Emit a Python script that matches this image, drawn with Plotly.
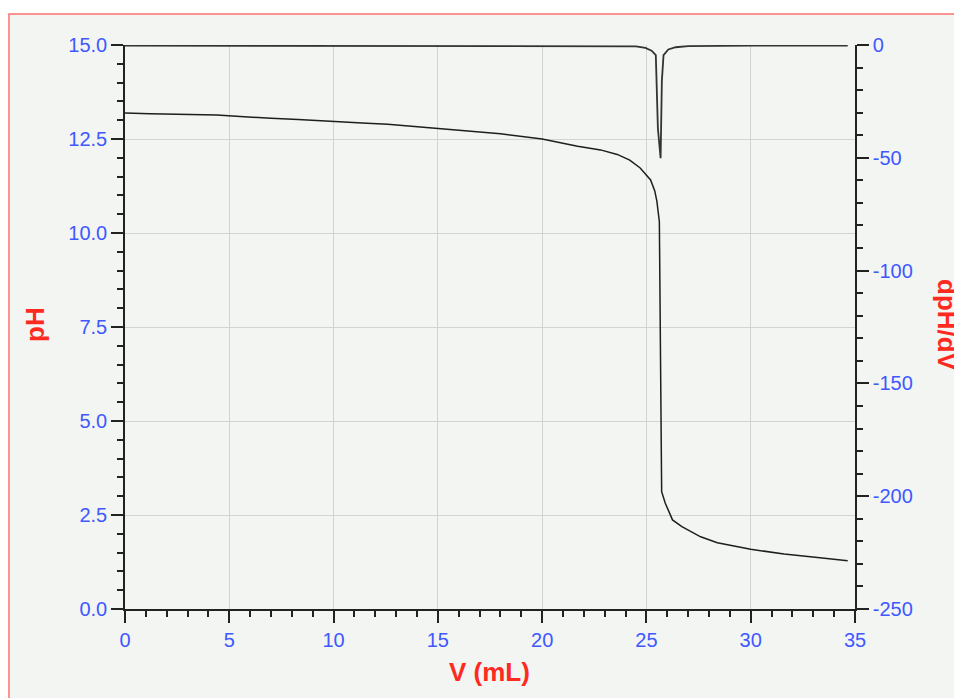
import plotly.graph_objects as go

# --- data ---
volume_ml = [0, 1.2, 4.4, 5.7, 7.0, 8.3, 9.5, 10.5, 11.6, 12.6, 13.5, 15.1, 16.5, 18.0,
             20.0, 21.7, 22.8, 23.6, 24.2, 24.7, 25.2, 25.4, 25.5, 25.62, 25.73, 25.9,
             26.25, 26.7, 27.6, 28.4, 30.0, 31.6, 33.2, 34.65]
ph_values = [13.19, 13.17, 13.14, 13.09, 13.05, 13.02, 12.99, 12.95, 12.92, 12.89, 12.85,
             12.78, 12.72, 12.64, 12.50, 12.31, 12.21, 12.09, 11.94, 11.73, 11.41, 11.12,
             10.85, 10.30, 3.12, 2.82, 2.37, 2.19, 1.92, 1.76, 1.59, 1.46, 1.37, 1.28]

deriv_volume_ml = [0, 5, 10, 15, 20, 23, 24.5, 24.95, 25.25, 25.45, 25.55, 25.68, 25.74,
                   25.82, 26.05, 26.4, 27, 30, 34.65]
dph_dv_values = [-0.3, -0.3, -0.3, -0.3, -0.3, -0.4, -0.6, -1.3, -2.5, -4.5, -37, -50.2,
                 -16, -4.5, -2.0, -1.0, -0.5, -0.3, -0.3]

y2_tick_values = [-250, -200, -150, -100, -50, 0]
y2_tick_labels = ["-250", "-200", "-150", "-100", "-50", "0"]

x_title = "V (mL)"
y_title = "pH"
y2_title = "dpH/dV"

# --- styling ---
OFF = 8  # page body margin
W, H = 962, 698
L, T = 117, 37
PW, PH = 730, 564
R, B = W - L - PW, H - T - PH
BLUE = "#4058ff"
RED = "#ff2a1f"
AX = "#222222"
BG = "#f2f5f2"
FONT = "Liberation Sans, Arial, sans-serif"


def px_x(px):
    return (px - OFF - L) / PW


def px_y(py):
    return (T + PH - (py - OFF)) / PH


fig = go.Figure()
fig.add_trace(go.Scatter(x=volume_ml, y=ph_values, mode="lines",
                         line=dict(color="#1e1e1e", width=1.5), yaxis="y",
                         showlegend=False, hoverinfo="skip"))
fig.add_trace(go.Scatter(x=deriv_volume_ml, y=dph_dv_values, mode="lines",
                         line=dict(color="#333333", width=1.8), yaxis="y2",
                         showlegend=False, hoverinfo="skip"))

common = dict(ticks="outside", ticklen=12, tickwidth=1.5, tickcolor=AX,
              showline=True, linecolor=AX, linewidth=1.5, zeroline=False,
              tickfont=dict(family=FONT, size=20, color=BLUE))

fig.update_layout(
    width=W, height=H,
    margin=dict(l=L, r=R, t=T, b=B, pad=0),
    paper_bgcolor="white",
    plot_bgcolor="rgba(0,0,0,0)",
    xaxis=dict(range=[0, 35], tick0=0, dtick=5, showgrid=True, gridcolor="#d3d3d3",
               gridwidth=1,
               minor=dict(dtick=1, ticklen=6, tickwidth=1.5, tickcolor=AX,
                          ticks="outside", showgrid=False),
               **common),
    yaxis=dict(range=[0, 15], tick0=0, dtick=2.5, tickformat=".1f", showgrid=True,
               gridcolor="#d3d3d3", gridwidth=1,
               minor=dict(dtick=0.5, ticklen=6, tickwidth=1.5, tickcolor=AX,
                          ticks="outside", showgrid=False),
               **common),
    yaxis2=dict(range=[-250, 0], tickmode="array", tickvals=y2_tick_values,
                ticktext=y2_tick_labels, overlaying="y", side="right",
                showgrid=False,
                minor=dict(dtick=10, tick0=0, ticklen=6, tickwidth=1.5, tickcolor=AX,
                           ticks="outside", showgrid=False),
                **common),
    shapes=[dict(type="rect", xref="paper", yref="paper",
                 x0=px_x(9), x1=px_x(1060), y0=px_y(780), y1=px_y(14),
                 line=dict(color="#ff7070", width=1.5), fillcolor=BG, layer="below")],
    annotations=[
        dict(text=x_title, xref="paper", yref="paper", x=px_x(489), y=px_y(672),
             showarrow=False, xanchor="center", yanchor="middle",
             font=dict(family=FONT, size=26, color=RED, weight="bold")),
        dict(text=y_title, xref="paper", yref="paper", x=px_x(35), y=px_y(325),
             showarrow=False, xanchor="center", yanchor="middle", textangle=-90,
             font=dict(family=FONT, size=26, color=RED, weight="bold")),
        dict(text=y2_title, xref="paper", yref="paper", x=px_x(947), y=px_y(325),
             showarrow=False, xanchor="center", yanchor="middle", textangle=90,
             font=dict(family=FONT, size=26, color=RED, weight="bold")),
    ],
)

fig.write_html("out.html")
